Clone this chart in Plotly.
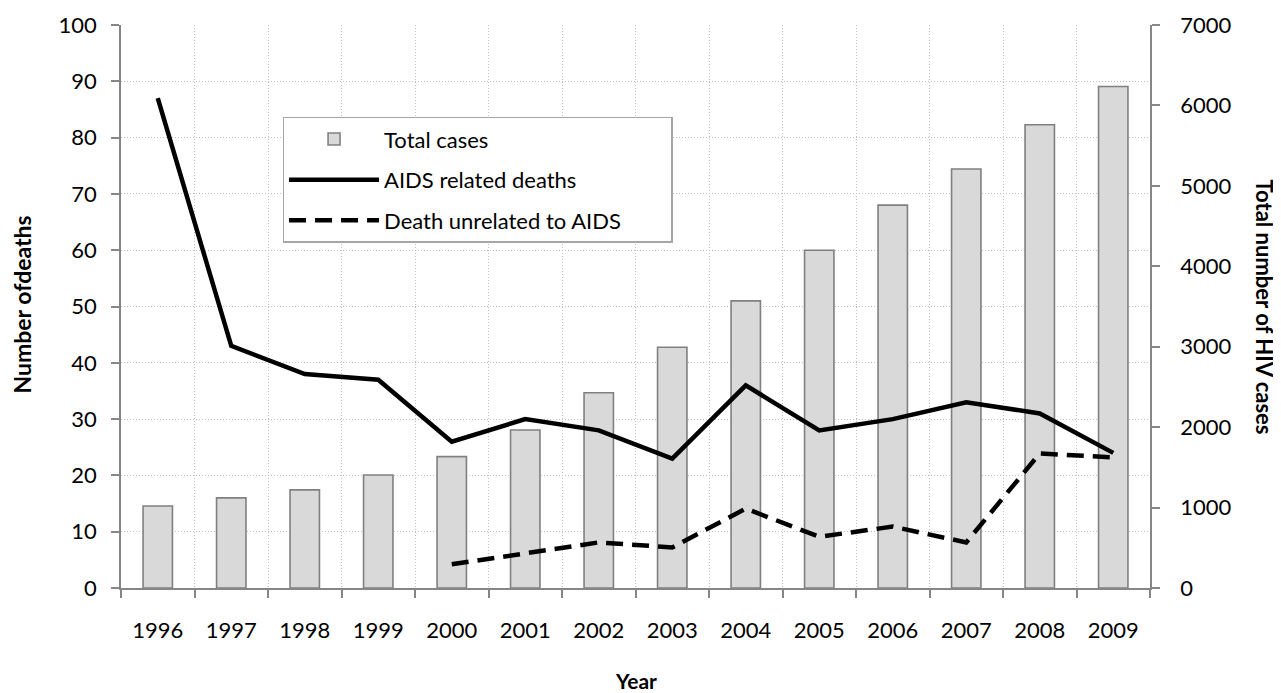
import plotly.graph_objects as go

years = ["1996", "1997", "1998", "1999", "2000", "2001", "2002",
         "2003", "2004", "2005", "2006", "2007", "2008", "2009"]
total_cases = [1020, 1120, 1220, 1405, 1633, 1964, 2428,
               2993, 3570, 4200, 4760, 5210, 5760, 6235]
aids_deaths = [87, 43, 38, 37, 26, 30, 28, 23, 36, 28, 30, 33, 31, 24]
unrelated_deaths = [None, None, None, None, 4.2, 6.1, 8.1, 7.2, 14.1,
                    9.1, 10.9, 8.1, 23.9, 23.2]

left_ticks = [0, 10, 20, 30, 40, 50, 60, 70, 80, 90, 100]
right_ticks = [0, 1000, 2000, 3000, 4000, 5000, 6000, 7000]

FONT = "Lato"
AX = "#868686"
GRID = "#bfbfbf"
DOT = "1px,2px"
PAD = "\u00a0" * 8

fig = go.Figure()
fig.add_trace(go.Bar(
    x=years, y=total_cases, name="Total cases", yaxis="y",
    marker=dict(color="#d9d9d9", line=dict(color="#808080", width=1.6)),
    legendgroup="a",
))
fig.add_trace(go.Scatter(
    x=years, y=aids_deaths, name="AIDS related deaths", yaxis="y2",
    mode="lines", line=dict(color="black", width=4.5),
    legendgroup="b",
))
fig.add_trace(go.Scatter(
    x=years, y=unrelated_deaths, name="Death unrelated to AIDS" + PAD, yaxis="y2",
    mode="lines", line=dict(color="black", width=4.5, dash="17px,9px"),
    connectgaps=False, legendgroup="c",
))

fig.update_layout(
    width=1273, height=685,
    margin=dict(l=113, r=131, t=17, b=105, autoexpand=False),
    paper_bgcolor="white", plot_bgcolor="white",
    font=dict(family=FONT, size=22, color="black"),
    bargap=0.6,
    showlegend=True,
    legend=dict(
        x=0.157, y=0.837, xanchor="left", yanchor="top",
        bordercolor="#a6a6a6", borderwidth=1.5, bgcolor="white",
        font=dict(family=FONT, size=22), tracegroupgap=9,
        itemwidth=90,
    ),
    xaxis=dict(
        type="category", tickson="boundaries", automargin=False,
        showgrid=True, gridcolor=GRID, griddash=DOT, gridwidth=1,
        showline=True, linecolor=AX, linewidth=1.5,
        ticks="outside", ticklen=8, tickcolor=AX, tickwidth=1.5,
        tickfont=dict(family=FONT, size=22), ticklabelstandoff=22,
        range=[-0.5, 13.5],
    ),
    yaxis=dict(
        side="right", range=[0, 7000], tickvals=right_ticks, automargin=False,
        showgrid=False, zeroline=False,
        showline=True, linecolor=AX, linewidth=1.5,
        ticks="outside", ticklen=8, tickcolor=AX, tickwidth=1.5,
        tickfont=dict(family=FONT, size=22), ticklabelstandoff=16,
    ),
    yaxis2=dict(
        overlaying="y", side="left", range=[0, 100], tickvals=left_ticks,
        automargin=False,
        showgrid=True, gridcolor=GRID, griddash=DOT, gridwidth=1,
        zeroline=False,
        showline=True, linecolor=AX, linewidth=1.5,
        ticks="outside", ticklen=8, tickcolor=AX, tickwidth=1.5,
        tickfont=dict(family=FONT, size=22), ticklabelstandoff=10,
    ),
    annotations=[
        dict(text="<b>Total number of HIV cases</b>", textangle=90,
             xref="paper", yref="paper", x=1.1108, y=0.5,
             xanchor="center", yanchor="middle", showarrow=False,
             font=dict(family=FONT, size=22)),
        dict(text="<b>Number ofdeaths</b>", textangle=-90,
             xref="paper", yref="paper", x=-0.0965, y=0.503,
             xanchor="center", yanchor="middle", showarrow=False,
             font=dict(family=FONT, size=23)),
        dict(text="<b>Year</b>",
             xref="paper", yref="paper", x=0.5005, y=-0.164,
             xanchor="center", yanchor="middle", showarrow=False,
             font=dict(family=FONT, size=21)),
    ],
)

fig.write_html("out.html")
